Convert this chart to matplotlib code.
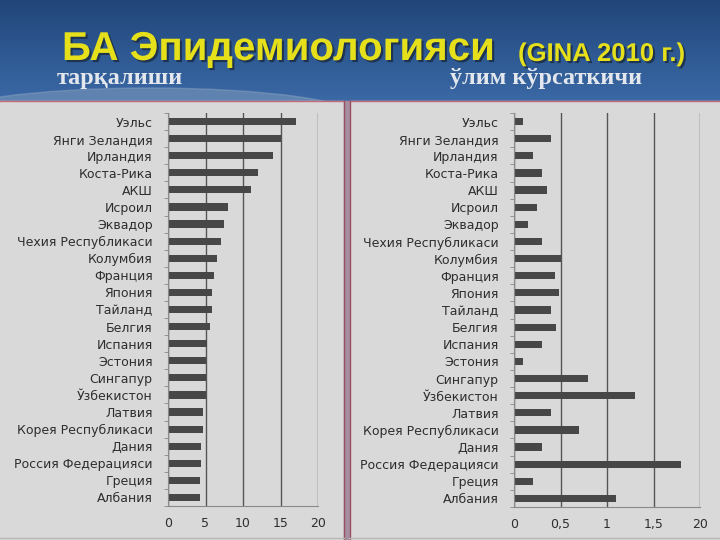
import numpy as np
import matplotlib
matplotlib.use('Agg')
import matplotlib.pyplot as plt
from matplotlib.patches import Rectangle, Ellipse
from matplotlib.colors import LinearSegmentedColormap
import matplotlib.patheffects as pe

countries = ['Уэльс', 'Янги Зеландия', 'Ирландия', 'Коста-Рика', 'АКШ', 'Исроил',
             'Эквадор', 'Чехия Республикаси', 'Колумбия', 'Франция', 'Япония',
             'Тайланд', 'Белгия', 'Испания', 'Эстония', 'Сингапур', 'Ўзбекистон',
             'Латвия', 'Корея Республикаси', 'Дания', 'Россия Федерацияси',
             'Греция', 'Албания']

# tarqalishi (prevalence, %)
prevalence = [17, 15, 14, 12, 11, 8, 7.5, 7, 6.5, 6.1, 5.9, 5.8, 5.6, 5.2,
              5, 5, 5, 4.6, 4.6, 4.4, 4.4, 4.2, 4.2]
# o'lim ko'rsatkichi (mortality)
mortality = [0.1, 0.4, 0.2, 0.3, 0.35, 0.25, 0.15, 0.3, 0.5, 0.44, 0.48, 0.4,
             0.45, 0.3, 0.1, 0.8, 1.3, 0.4, 0.7, 0.3, 1.8, 0.2, 1.1]

left_ticks = [0, 5, 10, 15, 20]
left_ticklabels = ['0', '5', '10', '15', '20']
right_ticks = [0, 0.5, 1, 1.5, 2]
right_ticklabels = ['0', '0,5', '1', '1,5', '20']

W, H = 720, 540
fig = plt.figure(figsize=(7.2, 5.4), dpi=100)

# slide background
bg = fig.add_axes([0, 0, 1, 1])
bg.set_xlim(0, W)
bg.set_ylim(H, 0)
bg.axis('off')
blue = LinearSegmentedColormap.from_list('b', ['#22457a', '#2d5891', '#3b69a5'])
grad = np.linspace(0, 1, 100).reshape(-1, 1)
bg.imshow(grad, cmap=blue, extent=(0, W, 102, 0), aspect='auto')
# light swoosh at the bottom of the header
bg.add_patch(Ellipse((150, 118), 420, 60, color='#8fa6c2', alpha=0.45, zorder=1))
bg.add_patch(Rectangle((0, 101), 344, 440, color='#d9d9d9', zorder=2))
bg.add_patch(Rectangle((349, 101), 371, 440, color='#d9d9d9', zorder=2))
bg.add_patch(Rectangle((344, 101), 5, 440, color='#a58f9e', zorder=2))
bg.plot([0, 344], [101, 101], color='#c46b7a', lw=1, zorder=3)
bg.plot([349, 720], [101, 101], color='#c46b7a', lw=1, zorder=3)
bg.plot([343.5, 343.5], [101, 540], color='#9a4d62', lw=1, zorder=3)
bg.plot([349.5, 349.5], [101, 540], color='#9a4d62', lw=1, zorder=3)
bg.plot([0, 344], [538, 538], color='#b8b8b8', lw=1, zorder=3)
bg.plot([349, 720], [538, 538], color='#b8b8b8', lw=1, zorder=3)

shadow = [pe.withSimplePatchShadow(offset=(1.5, -1.5), shadow_rgbFace='#1a2a40', alpha=0.8)]
bg.text(62, 60, 'БА Эпидемиологияси', color='#e6e01a', fontsize=29, fontweight='bold',
        family=['Liberation Sans', 'DejaVu Sans'], va='baseline', zorder=4, path_effects=shadow)
bg.text(518, 61, '(GINA 2010 г.)', color='#e6e01a', fontsize=18.5, fontweight='bold',
        family=['Liberation Sans', 'DejaVu Sans'], va='baseline', zorder=4, path_effects=shadow)
bg.text(57, 84, 'тарқалиши', color='#e4e8ee', fontsize=17.5, fontweight='bold',
        family=['Liberation Serif', 'DejaVu Serif'], va='baseline', zorder=4)
bg.text(450, 84, 'ўлим кўрсаткичи', color='#e4e8ee', fontsize=17.5, fontweight='bold',
        family=['Liberation Serif', 'DejaVu Serif'], va='baseline', zorder=4)


def bar_panel(ax, values, ticks, ticklabels):
    y = np.arange(len(countries))
    ax.barh(y, values, height=0.42, color='#474747', zorder=3)
    ax.set_xlim(ticks[0], ticks[-1])
    ax.set_ylim(len(countries) - 0.5, -0.5)
    ax.set_xticks(ticks)
    ax.set_xticklabels(ticklabels)
    ax.set_yticks(y)
    ax.set_yticklabels(countries)
    ax.set_yticks(np.arange(len(countries) + 1) - 0.5, minor=True)
    ax.tick_params(axis='y', which='major', length=0, pad=11, labelsize=9, labelcolor='#2e2e2e')
    ax.tick_params(axis='y', which='minor', length=3, color='#888888')
    ax.tick_params(axis='x', length=0, pad=8, labelsize=9, labelcolor='#2e2e2e')
    ax.grid(axis='x', color='#555555', lw=1, zorder=1)
    ax.set_facecolor('none')
    for s in ['top', 'right']:
        ax.spines[s].set_visible(False)
    for s in ['left', 'bottom']:
        ax.spines[s].set_color('#8a8a8a')
        ax.spines[s].set_zorder(4)


ax1 = fig.add_axes([168 / W, 1 - 506 / H, 150 / W, 393 / H])
bar_panel(ax1, prevalence, left_ticks, left_ticklabels)

ax2 = fig.add_axes([514 / W, 1 - 507 / H, 186 / W, 394 / H])
bar_panel(ax2, mortality, right_ticks, right_ticklabels)

fig.savefig('out.png', dpi=100)
